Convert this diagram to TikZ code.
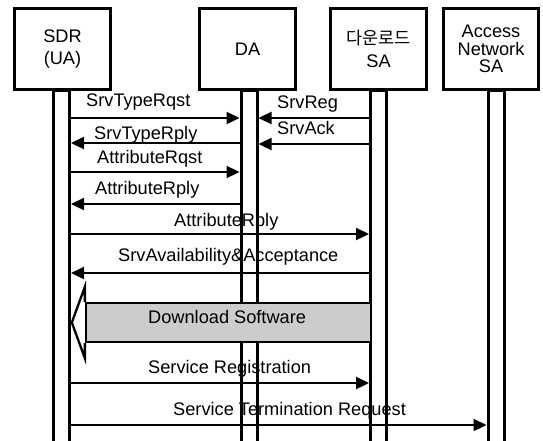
\documentclass[tikz,border=0pt]{standalone}
\usepackage{fontspec}
\setmainfont{Liberation Sans}
\newfontfamily\korfont{Noto Sans CJK KR}
\usetikzlibrary{arrows.meta,positioning}

\begin{document}
\begin{tikzpicture}[x=1pt,y=-1pt,
  font=\fontsize{18.2}{18.5}\selectfont,
  actor/.style={rectangle,draw,line width=3pt,fill=white,minimum width=96pt,minimum height=81pt,align=center,inner sep=0pt},
  life/.style={rectangle,draw,line width=3pt,minimum width=16pt,minimum height=360pt,inner sep=0pt},
  msg/.style={-{Triangle[length=13pt,width=12pt]},line width=2.3pt},
  lbl/.style={anchor=base west,inner sep=0pt},
  block/.style={rectangle,draw,line width=2.3pt,fill=black!20,minimum width=285pt,minimum height=39pt,inner sep=0pt}
]
  \clip (0,0) rectangle (543,440);

  \node[life] (sdrline) at (61.5,270) {};
  \node[life] (daline) at (249,270) {};
  \node[life] (saline) at (378.5,270) {};
  \node[life] (anline) at (496,270) {};

  \node[actor] (sdr) at (62.5,49) {SDR\\[3pt](UA)};
  \node[actor] (da) at (247.5,49) {DA};
  \node[actor] (sa) at (378.5,49) {{\korfont\fontsize{17.5}{18.5}\selectfont 다운로드}\\[5pt]SA};
  \node[actor,minimum width=95pt] (an) at (491,49) {Access\\[-1pt]Network\\[-1pt]SA};

  % discovery
  \draw[msg] (sdrline.east |- 0,118) -- (daline.west |- 0,118);
  \node[lbl] (typerqst) at (86,106) {SrvTypeRqst};
  \draw[msg] (saline.west |- 0,118) -- (daline.east |- 0,118);
  \node[lbl] (srvreg) at (277,108) {SrvReg};
  \draw[msg] (daline.west |- 0,143) -- (sdrline.east |- 0,143);
  \node[lbl] (typerply) at (94,139) {SrvTypeRply};
  \draw[msg] (saline.west |- 0,144) -- (daline.east |- 0,144);
  \node[lbl] (srvack) at (277,134) {SrvAck};
  \draw[msg] (sdrline.east |- 0,172) -- (daline.west |- 0,172);
  \node[lbl] (attrrqst) at (97,163) {AttributeRqst};
  \draw[msg] (daline.west |- 0,204) -- (sdrline.east |- 0,204);
  \node[lbl] (attrrply) at (95,194) {AttributeRply};
  \draw[msg] (sdrline.east |- 0,234) -- (saline.west |- 0,234);
  \node[lbl] (attrrplysa) at (174,226) {AttributeRply};
  \draw[msg] (saline.west |- 0,273) -- (sdrline.east |- 0,273);
  \node[lbl] (avail) at (118,261) {SrvAvailability\&Acceptance};

  % download
  \node[block] (dl) at (228.5,322.5) {};
  \draw[line width=2.3pt] (dl.north west) -- ++(0,-15) -- ([xshift=-13pt]dl.west)
    -- ([yshift=-15pt]dl.south west) -- (dl.south west);
  \node[lbl] (dltext) at (148,323) {Download Software};

  % registration
  \draw[msg] (sdrline.east |- 0,383) -- (saline.west |- 0,383);
  \node[lbl] (svcreg) at (148,373) {Service Registration};
  \draw[msg] (sdrline.east |- 0,425) -- (anline.west |- 0,425);
  \node[lbl] (svcterm) at (173,415) {Service Termination Request};
\end{tikzpicture}
\end{document}
